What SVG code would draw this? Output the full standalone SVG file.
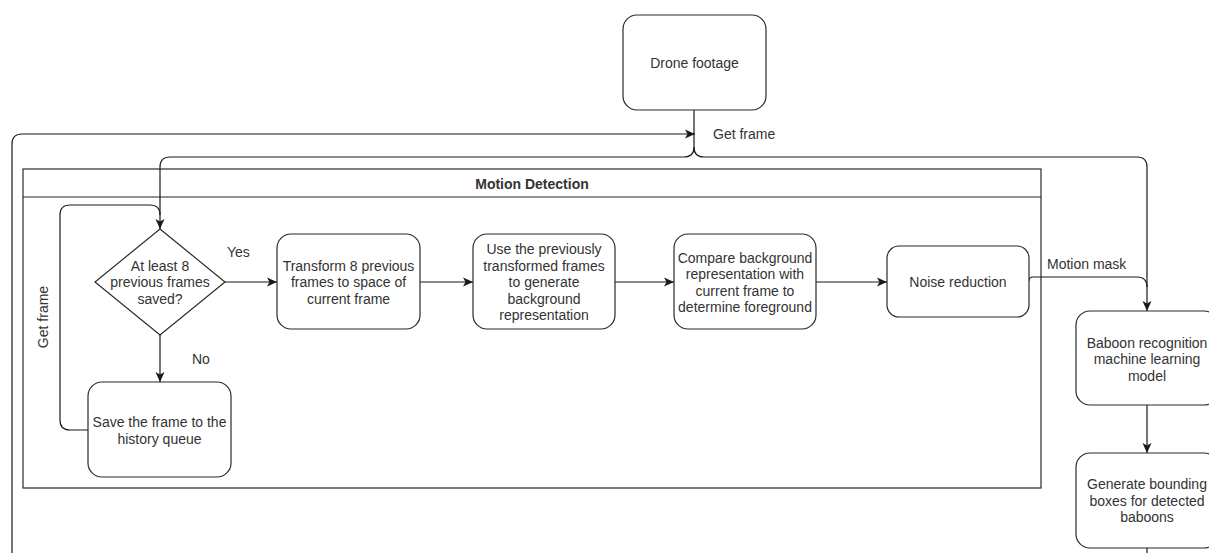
<svg xmlns="http://www.w3.org/2000/svg" width="1209" height="553" viewBox="0 0 1209 553">
  <style>
    .box { fill: #ffffff; stroke: #2a2a2a; stroke-width: 1.2; }
    .pool { fill: none; stroke: #2a2a2a; stroke-width: 1.2; }
    .edge { fill: none; stroke: #1a1a1a; stroke-width: 1.2; }
    .t { font-family: "Liberation Sans", Arial, sans-serif; font-size: 14px; fill: #333333; text-anchor: middle; dominant-baseline: central; }
    .lbl { font-family: "Liberation Sans", Arial, sans-serif; font-size: 14px; fill: #333333; dominant-baseline: central; }
    .title { font-weight: bold; }
  </style>
  <defs>
    <marker id="arrow" markerUnits="userSpaceOnUse" markerWidth="11" markerHeight="11" viewBox="0 0 11 11" refX="10" refY="5.5" orient="auto">
      <path d="M0,1 L10,5.5 L0,10 L2.5,5.5 z" fill="#1a1a1a"/>
    </marker>
  </defs>

  <rect width="1209" height="553" fill="#ffffff"/>

  <!-- Motion Detection pool -->
  <g id="motion-detection">
    <rect class="pool" x="23" y="169" width="1018" height="319"/>
    <line class="pool" x1="23" y1="197" x2="1041" y2="197"/>
    <text class="t title" x="532" y="184">Motion Detection</text>
  </g>

  <!-- connectors -->
  <g id="connectors">
    <path class="edge" d="M12,560 V144 Q12,134 22,134 H695" marker-end="url(#arrow)"/>
    <path class="edge" d="M694,110 V147 Q694,157 684,157 H170 Q160,157 160,167 V229" marker-end="url(#arrow)"/>
    <path class="edge" d="M694,147 Q694,157 704,157 H1137 Q1147,157 1147,167 V311" marker-end="url(#arrow)"/>
    <path class="edge" d="M88,430 H70 Q60,430 60,420 V215 Q60,205 70,205 H150 Q160,205 160,215"/>
    <path class="edge" d="M225,282 H277" marker-end="url(#arrow)"/>
    <path class="edge" d="M420,282 H473" marker-end="url(#arrow)"/>
    <path class="edge" d="M615,282 H674" marker-end="url(#arrow)"/>
    <path class="edge" d="M816,282 H887" marker-end="url(#arrow)"/>
    <path class="edge" d="M160,335 V382" marker-end="url(#arrow)"/>
    <path class="edge" d="M1029,281 Q1029,277 1033,277 H1137 Q1147,277 1147,287"/>
    <path class="edge" d="M1147,405 V453" marker-end="url(#arrow)"/>
    <path class="edge" d="M1147,548 V560"/>

    <text class="lbl" x="713" y="134">Get frame</text>
    <text class="lbl" x="227" y="252">Yes</text>
    <text class="lbl" x="192" y="359">No</text>
    <text class="lbl" x="1047" y="264">Motion mask</text>
    <text class="t" x="43" y="317" transform="rotate(-90 43 317)">Get frame</text>
  </g>

  <g id="drone-footage">
    <rect class="box" x="623" y="15" width="143" height="95" rx="14"/>
    <text class="t" x="694.5" y="63">Drone footage</text>
  </g>

  <g id="frames-saved">
    <polygon class="box" points="160,229 225,282 160,335 95,282"/>
    <text class="t" x="160" y="265.5">At least 8</text>
    <text class="t" x="160" y="282">previous frames</text>
    <text class="t" x="160" y="298.5">saved?</text>
  </g>

  <g id="transform-frames">
    <rect class="box" x="277" y="234" width="143" height="95" rx="14"/>
    <text class="t" x="348.5" y="265.5">Transform 8 previous</text>
    <text class="t" x="348.5" y="282">frames to space of</text>
    <text class="t" x="348.5" y="298.5">current frame</text>
  </g>

  <g id="background-model">
    <rect class="box" x="473" y="234" width="142" height="95" rx="14"/>
    <text class="t" x="544" y="249">Use the previously</text>
    <text class="t" x="544" y="265.5">transformed frames</text>
    <text class="t" x="544" y="282">to generate</text>
    <text class="t" x="544" y="298.5">background</text>
    <text class="t" x="544" y="315">representation</text>
  </g>

  <g id="foreground">
    <rect class="box" x="674" y="234" width="142" height="95" rx="14"/>
    <text class="t" x="745" y="257.5">Compare background</text>
    <text class="t" x="745" y="274">representation with</text>
    <text class="t" x="745" y="290.5">current frame to</text>
    <text class="t" x="745" y="307">determine foreground</text>
  </g>

  <g id="noise-reduction">
    <rect class="box" x="887" y="246" width="142" height="71" rx="12"/>
    <text class="t" x="958" y="282">Noise reduction</text>
  </g>

  <g id="history-queue">
    <rect class="box" x="88" y="382" width="143" height="95" rx="14"/>
    <text class="t" x="159.5" y="422">Save the frame to the</text>
    <text class="t" x="159.5" y="438.5">history queue</text>
  </g>

  <g id="baboon-recognition">
    <rect class="box" x="1076" y="311" width="142" height="94" rx="14"/>
    <text class="t" x="1147" y="342.5">Baboon recognition</text>
    <text class="t" x="1147" y="359">machine learning</text>
    <text class="t" x="1147" y="375.5">model</text>
  </g>

  <g id="bounding-boxes">
    <rect class="box" x="1076" y="453" width="142" height="95" rx="14"/>
    <text class="t" x="1147" y="484">Generate bounding</text>
    <text class="t" x="1147" y="500.5">boxes for detected</text>
    <text class="t" x="1147" y="517">baboons</text>
  </g>
</svg>
